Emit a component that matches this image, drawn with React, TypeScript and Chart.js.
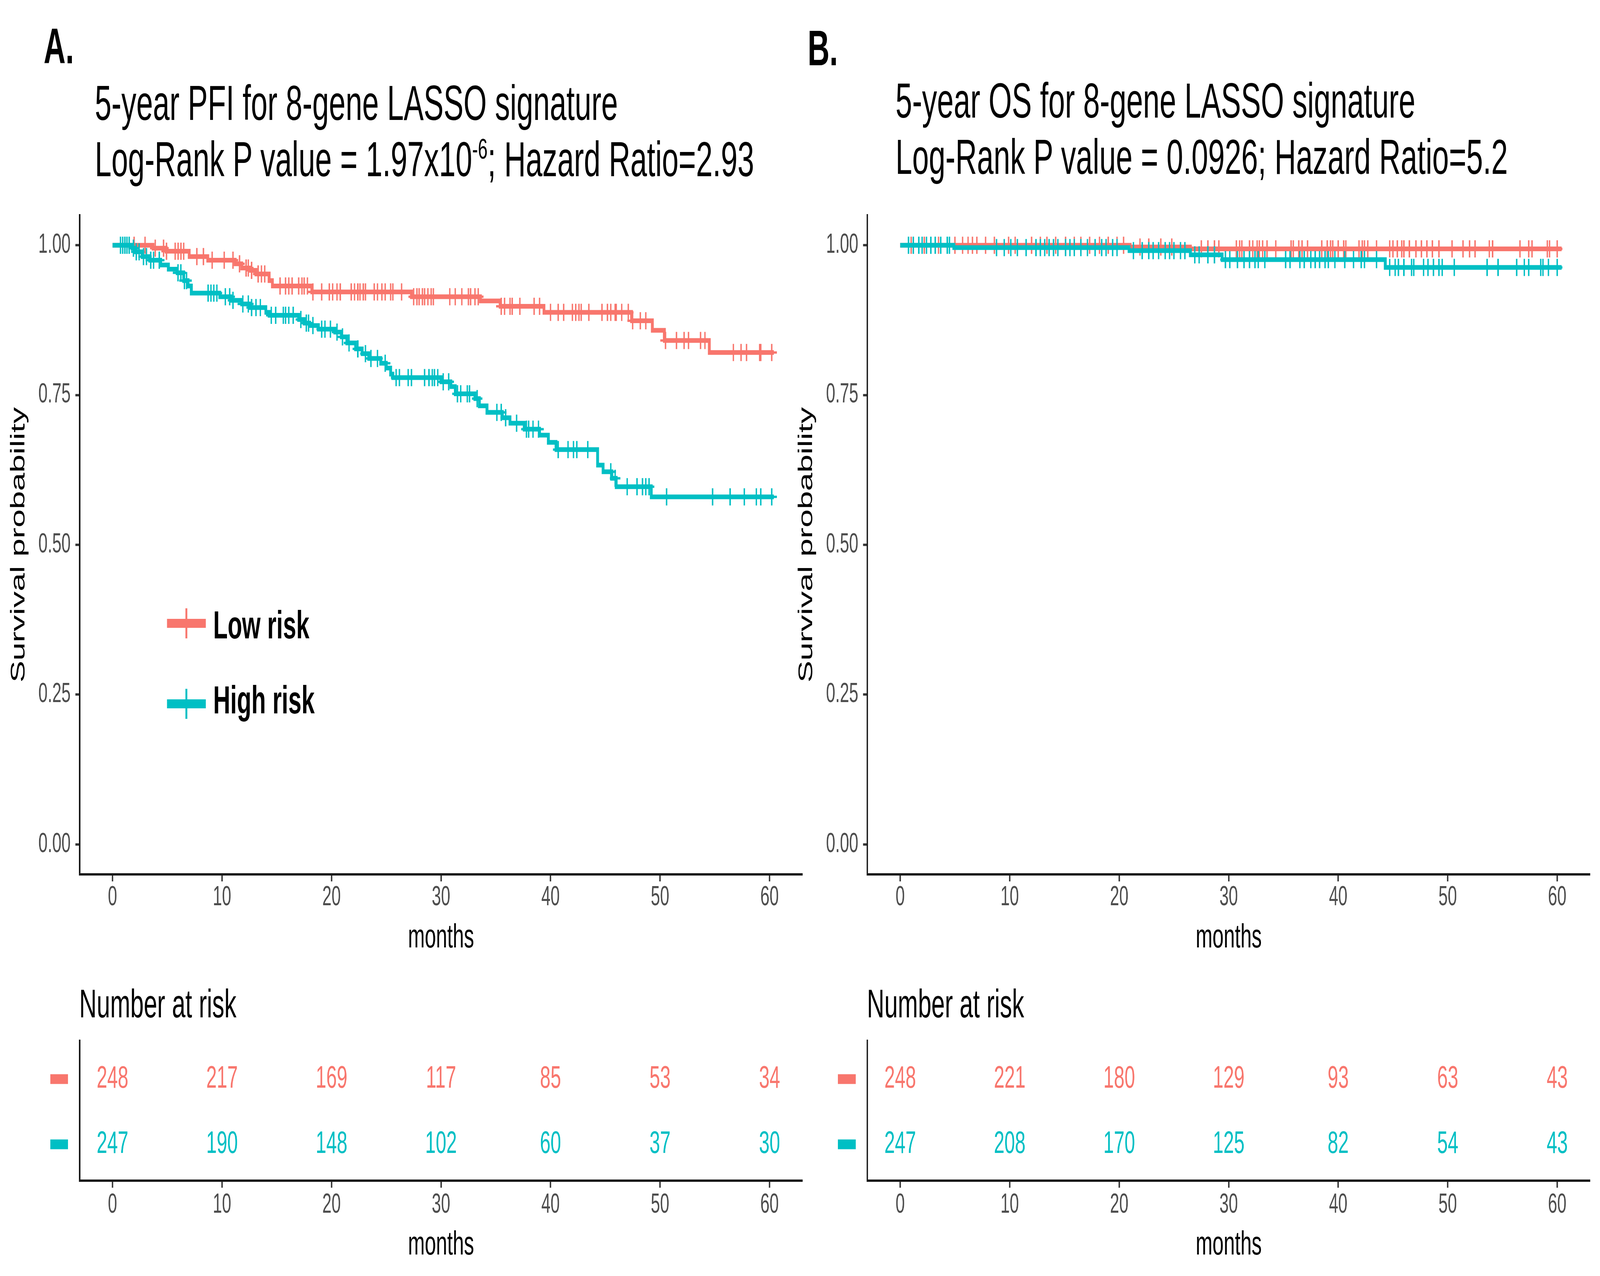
import React, { useEffect, useRef } from 'react';
import { Chart, registerables } from 'chart.js';

Chart.register(...registerables);

const RED = '#F8766D';
const TEAL = '#00BFC4';
const FONT = '"Liberation Sans", Arial, Helvetica, sans-serif';
Chart.defaults.font.family = FONT;

// design frame (reference size)
const FRAME_W = 6748;
const FRAME_H = 3266;

// ---------- axes ----------
const MONTH_TICKS = [0, 10, 20, 30, 40, 50, 60];
const SURV_TICKS = [0, 0.25, 0.5, 0.75, 1];

// ---------- Panel A: 5-year PFI ----------
const A_LOW_EVENT_T = [3.7, 4.9, 7.0, 8.7, 11.2, 11.8, 12.6, 13.1, 14.3, 14.6, 18.2, 27.3, 33.6, 35.4, 39.4, 47.4, 49.3, 50.4, 54.5];
const A_LOW_EVENT_S = [0.995, 0.99, 0.981, 0.975, 0.969, 0.962, 0.958, 0.952, 0.941, 0.932, 0.922, 0.914, 0.907, 0.898, 0.888, 0.874, 0.858, 0.841, 0.821];
const A_LOW_CENSOR = [1.97, 2.97, 3.9, 4.66, 4.93, 5.72, 5.99, 6.25, 6.5, 7.7, 8.3, 9.1, 10.2, 11.0, 11.6, 12.2, 12.4, 12.7, 13.3, 13.6, 13.9, 15.3, 15.8, 16.1, 16.4, 17.0, 17.3, 17.5, 17.8, 18.3, 19.1, 19.8, 20.1, 20.5, 20.8, 21.8, 22.1, 22.4, 22.6, 22.9, 23.1, 23.9, 24.2, 24.6, 24.9, 25.4, 25.6, 26.4, 27.5, 27.8, 28.0, 28.3, 28.5, 28.8, 29.1, 29.3, 30.8, 31.3, 31.9, 32.5, 32.7, 33.1, 33.4, 35.5, 35.8, 36.3, 36.5, 37.2, 38.5, 39.0, 40.0, 40.7, 41.2, 42.0, 42.3, 42.6, 42.8, 43.5, 44.7, 45.2, 45.5, 45.9, 46.0, 46.5, 47.1, 47.5, 48.2, 48.7, 50.5, 51.5, 52.2, 52.6, 53.7, 54.1, 56.7, 57.4, 57.9, 59.1, 59.2, 60.2];
const A_HIGH_EVENT_T = [1.8, 2.0, 2.7, 3.4, 4.4, 5.1, 5.9, 6.5, 6.9, 7.2, 9.8, 10.8, 11.8, 12.5, 14.0, 14.3, 17.0, 17.5, 18.0, 18.8, 20.3, 20.9, 21.4, 22.2, 22.8, 23.4, 24.5, 25.0, 25.4, 25.6, 30.0, 30.9, 31.3, 33.1, 33.5, 34.2, 35.6, 36.3, 37.6, 39.0, 39.8, 40.5, 44.3, 44.8, 45.6, 46.0, 49.2];
const A_HIGH_EVENT_S = [0.995, 0.989, 0.981, 0.975, 0.967, 0.96, 0.954, 0.941, 0.932, 0.92, 0.914, 0.908, 0.902, 0.896, 0.888, 0.883, 0.876, 0.87, 0.866, 0.86, 0.855, 0.847, 0.837, 0.827, 0.819, 0.811, 0.803, 0.795, 0.785, 0.779, 0.772, 0.764, 0.752, 0.744, 0.732, 0.721, 0.712, 0.703, 0.693, 0.683, 0.671, 0.659, 0.633, 0.622, 0.611, 0.597, 0.58];
const A_HIGH_CENSOR = [0.73, 0.93, 1.13, 1.32, 1.52, 1.91, 2.17, 2.43, 2.83, 3.1, 3.49, 3.75, 4.27, 5.98, 6.24, 6.57, 6.76, 8.73, 8.99, 9.25, 9.53, 10.3, 10.7, 11.0, 11.9, 12.4, 12.7, 13.1, 13.5, 14.5, 14.9, 15.6, 15.8, 16.1, 16.5, 17.2, 17.7, 17.9, 18.3, 19.1, 19.4, 19.9, 20.5, 21.0, 21.6, 22.4, 23.1, 23.6, 24.2, 24.9, 25.9, 26.2, 27.0, 27.3, 28.5, 28.9, 29.2, 29.4, 29.7, 30.2, 30.7, 31.5, 31.8, 32.4, 32.6, 33.3, 35.1, 35.5, 35.9, 36.9, 37.8, 38.0, 38.4, 38.9, 40.7, 41.6, 42.1, 42.4, 43.4, 45.5, 45.9, 47.0, 47.9, 48.4, 48.7, 49.0, 50.6, 54.8, 56.4, 57.7, 58.8, 59.2, 60.2];
const A_RISK_LOW = [248, 217, 169, 117, 85, 53, 34];
const A_RISK_HIGH = [247, 190, 148, 102, 60, 37, 30];

// ---------- Panel B: 5-year OS ----------
const B_LOW_EVENT_T = [21.0, 26.5];
const B_LOW_EVENT_S = [0.997, 0.994];
const B_LOW_CENSOR = [1.0, 2.2, 3.5, 5.0, 5.7, 6.2, 6.6, 7.0, 7.8, 8.6, 9.9, 10.5, 12.0, 12.8, 13.4, 14.2, 15.1, 15.9, 16.5, 17.3, 18.2, 19.0, 19.8, 20.4, 21.9, 22.7, 23.8, 24.8, 27.5, 28.1, 28.7, 29.1, 30.7, 31.0, 31.2, 31.9, 32.2, 32.6, 32.8, 33.1, 33.5, 34.3, 35.7, 35.9, 36.4, 36.7, 37.2, 38.5, 39.0, 39.3, 39.5, 40.0, 40.5, 40.7, 41.9, 42.2, 42.4, 42.7, 43.5, 44.7, 45.0, 45.4, 45.8, 46.0, 46.5, 47.1, 47.6, 48.1, 48.6, 49.2, 50.4, 51.4, 52.0, 52.5, 53.8, 54.1, 56.6, 57.4, 57.7, 59.1, 59.3, 60.0];
const B_HIGH_EVENT_T = [4.9, 20.9, 26.5, 29.4, 44.3];
const B_HIGH_EVENT_S = [0.996, 0.991, 0.984, 0.976, 0.963];
const B_HIGH_CENSOR = [0.76, 1.2, 1.7, 2.0, 2.4, 2.8, 3.2, 3.7, 4.3, 4.5, 8.8, 9.5, 10.1, 10.7, 11.5, 12.4, 12.8, 13.2, 13.6, 14.0, 14.4, 15.1, 15.5, 15.9, 16.5, 17.1, 17.8, 18.4, 18.8, 19.4, 19.8, 21.3, 22.1, 22.7, 23.1, 23.6, 24.2, 24.6, 25.0, 25.6, 26.0, 26.9, 27.3, 28.1, 28.7, 29.7, 30.1, 30.8, 31.4, 31.9, 32.4, 32.7, 33.3, 35.2, 35.6, 36.5, 36.9, 37.5, 37.9, 38.3, 38.8, 39.1, 39.7, 40.6, 41.4, 42.1, 42.4, 43.5, 44.7, 45.2, 45.5, 46.0, 46.7, 46.9, 47.8, 48.2, 48.7, 49.2, 49.5, 50.6, 53.6, 54.6, 56.3, 57.0, 57.4, 58.5, 58.7, 59.2, 60.0];
const B_RISK_LOW = [248, 221, 180, 129, 93, 63, 43];
const B_RISK_HIGH = [247, 208, 170, 125, 82, 54, 43];

const FOLLOW_UP_END = 60.4;
const ROW_LOW = 2;
const ROW_HIGH = 1;

// ---------- helpers ----------
type Group = { t: number[]; s: number[]; censor: number[] };

function survAt(t: number, g: Group) {
  let v = 1;
  for (let i = 0; i < g.t.length; i++) if (g.t[i] <= t) v = g.s[i];
  return v;
}
function stepData(g: Group) {
  const pts = [{ x: 0, y: 1 }];
  g.t.forEach((t, i) => pts.push({ x: t, y: g.s[i] }));
  pts.push({ x: FOLLOW_UP_END, y: g.s.length ? g.s[g.s.length - 1] : 1 });
  return pts;
}
function censorData(g: Group) {
  return g.censor.map((t) => ({ x: t, y: survAt(t, g) }));
}

const tickGrid = {
  display: true,
  drawOnChartArea: false,
  drawTicks: true,
  tickLength: 18,
  tickWidth: 6,
  tickColor: '#333333',
};
const axisBorder = { display: true, color: '#1a1a1a', width: 6 };

function kmConfig(low: Group, high: Group): any {
  const marks = (g: Group, c: string) => ({
    data: censorData(g),
    showLine: false,
    pointStyle: 'cross',
    pointRadius: 22,
    pointHoverRadius: 22,
    pointBorderWidth: 6,
    borderColor: c,
    backgroundColor: c,
  });
  const line = (g: Group, c: string) => ({
    data: stepData(g),
    stepped: true,
    borderColor: c,
    backgroundColor: c,
    borderWidth: 12,
    borderCapStyle: 'butt',
    borderJoinStyle: 'miter',
    pointRadius: 0,
    pointHoverRadius: 0,
    fill: false,
  });
  return {
    type: 'line',
    data: { datasets: [marks(high, TEAL), line(high, TEAL), marks(low, RED), line(low, RED)] },
    options: {
      animation: false,
      responsive: false,
      maintainAspectRatio: false,
      devicePixelRatio: 1,
      events: [],
      layout: { padding: { top: 151, right: 36, bottom: 0, left: 0 } },
      plugins: { legend: { display: false }, tooltip: { enabled: false }, title: { display: false } },
      scales: {
        x: {
          type: 'linear', min: -3, max: 63,
          afterBuildTicks: (s: any) => { s.ticks = MONTH_TICKS.map((v) => ({ value: v })); },
          afterFit: (s: any) => { s.height = 232; },
          grid: tickGrid, border: axisBorder,
          ticks: { padding: 0, color: '#4d4d4d', font: { size: 70 }, maxRotation: 0, autoSkip: false },
          title: { display: true, text: 'months', color: '#000', font: { size: 85 }, padding: { top: 0, bottom: 17 } },
        },
        y: {
          type: 'linear', min: -0.05, max: 1.05,
          afterBuildTicks: (s: any) => { s.ticks = SURV_TICKS.map((v) => ({ value: v })); },
          afterFit: (s: any) => { s.width = 336; },
          grid: tickGrid, border: axisBorder,
          ticks: { padding: 20, color: '#4d4d4d', font: { size: 70 }, callback: (v: any) => Number(v).toFixed(2) },
          title: { display: true, text: 'Survival probability', color: '#000', font: { size: 84 }, padding: { top: 29, bottom: 0 } },
        },
      },
    },
  };
}

function riskConfig(lowCounts: number[], highCounts: number[]): any {
  const rows = [
    { counts: highCounts, row: ROW_HIGH, color: TEAL },
    { counts: lowCounts, row: ROW_LOW, color: RED },
  ];
  const riskText = {
    id: 'riskText',
    afterDatasetsDraw(chart: any) {
      const ctx = chart.ctx;
      rows.forEach((r, i) => {
        const meta = chart.getDatasetMeta(i);
        ctx.save();
        ctx.fillStyle = r.color;
        ctx.font = `80px ${FONT}`;
        ctx.textAlign = 'center';
        ctx.textBaseline = 'middle';
        meta.data.forEach((el: any, j: number) => ctx.fillText(String(r.counts[j]), el.x, el.y));
        const y = chart.scales.y.getPixelForValue(r.row);
        ctx.fillRect(chart.chartArea.left - 124, y - 12.5, 75, 25);
        ctx.restore();
      });
    },
  };
  return {
    type: 'line',
    data: {
      datasets: rows.map((r) => ({
        data: MONTH_TICKS.map((x) => ({ x, y: r.row })),
        showLine: false, pointRadius: 0, pointHoverRadius: 0, borderColor: r.color,
      })),
    },
    plugins: [riskText],
    options: {
      animation: false, responsive: false, maintainAspectRatio: false, devicePixelRatio: 1, events: [],
      layout: { padding: { top: 64, right: 36, bottom: 0, left: 0 } },
      plugins: { legend: { display: false }, tooltip: { enabled: false }, title: { display: false } },
      scales: {
        x: {
          type: 'linear', min: -3, max: 63,
          afterBuildTicks: (s: any) => { s.ticks = MONTH_TICKS.map((v) => ({ value: v })); },
          afterFit: (s: any) => { s.height = 244; },
          grid: tickGrid, border: axisBorder,
          ticks: { padding: 3, color: '#4d4d4d', font: { size: 70 }, maxRotation: 0, autoSkip: false },
          title: { display: true, text: 'months', color: '#000', font: { size: 85 }, padding: { top: 0, bottom: 27 } },
        },
        y: {
          type: 'linear', min: 0.443, max: 2.587,
          afterFit: (s: any) => { s.width = 336; },
          grid: { display: false }, border: axisBorder, ticks: { display: false },
        },
      },
    },
  };
}

function ChartCanvas(props: { left: number; top: number; width: number; height: number; make: () => any }) {
  const ref = useRef<HTMLCanvasElement | null>(null);
  useEffect(() => {
    const chart = new Chart(ref.current as HTMLCanvasElement, props.make());
    return () => chart.destroy();
  }, []);
  const { left, top, width, height } = props;
  return <canvas ref={ref} width={width} height={height} style={{ position: 'absolute', left, top, width, height, display: 'block' }} />;
}

function Txt(props: { left: number; top: number; size: number; bold?: boolean; children: any }) {
  return (
    <div style={{ position: 'absolute', left: props.left, top: props.top, fontSize: props.size, lineHeight: 1, fontWeight: props.bold ? 700 : 400, whiteSpace: 'nowrap', color: '#000', fontFamily: FONT }}>
      {props.children}
    </div>
  );
}

function LegendKey(props: { y: number; color: string; label: string; textTop: number }) {
  return (
    <>
      <div style={{ position: 'absolute', left: 704, top: props.y - 11.5, width: 164, height: 23, background: props.color }} />
      <div style={{ position: 'absolute', left: 782, top: props.y - 38, width: 8, height: 77, background: props.color }} />
      <Txt left={899} top={props.textTop} size={100} bold>{props.label}</Txt>
    </>
  );
}

const DX = 3322;

export default function App() {
  const vw = typeof window !== 'undefined' ? window.innerWidth : FRAME_W;
  const vh = typeof window !== 'undefined' ? window.innerHeight : FRAME_H;
  const sx = Math.min(1, vw / FRAME_W);
  const sy = Math.min(1, vh / FRAME_H);
  const aLow: Group = { t: A_LOW_EVENT_T, s: A_LOW_EVENT_S, censor: A_LOW_CENSOR };
  const aHigh: Group = { t: A_HIGH_EVENT_T, s: A_HIGH_EVENT_S, censor: A_HIGH_CENSOR };
  const bLow: Group = { t: B_LOW_EVENT_T, s: B_LOW_EVENT_S, censor: B_LOW_CENSOR };
  const bHigh: Group = { t: B_HIGH_EVENT_T, s: B_HIGH_EVENT_S, censor: B_HIGH_CENSOR };
  const sup = { fontSize: '0.58em', position: 'relative' as const, top: '-0.62em' };
  return (
    <div
      style={{
        position: 'fixed',
        left: 0,
        top: 0,
        width: FRAME_W,
        height: FRAME_H,
        background: '#ffffff',
        overflow: 'hidden',
        fontFamily: FONT,
        transform: `scale(${sx}, ${sy})`,
        transformOrigin: '0 0',
      }}
    >
      {/* Panel A */}
      <Txt left={184} top={54} size={128} bold>A.</Txt>
      <Txt left={400} top={201} size={126}>5-year PFI for 8-gene LASSO signature</Txt>
      <Txt left={400} top={345} size={126}>Log-Rank P value = 1.97x10<span style={sup}>-6</span>; Hazard Ratio=2.93</Txt>
      <ChartCanvas left={0} top={400} width={3420} height={2070} make={() => kmConfig(aLow, aHigh)} />
      <LegendKey y={1595} color={RED} label="Low risk" textTop={1549} />
      <LegendKey y={1801} color={TEAL} label="High risk" textTop={1741} />
      <Txt left={334} top={2518} size={102}>Number at risk</Txt>
      <ChartCanvas left={0} top={2600} width={3420} height={666} make={() => riskConfig(A_RISK_LOW, A_RISK_HIGH)} />

      {/* Panel B */}
      <Txt left={3406} top={59} size={128} bold>B.</Txt>
      <Txt left={3777} top={195} size={126}>5-year OS for 8-gene LASSO signature</Txt>
      <Txt left={3777} top={339} size={126}>Log-Rank P value = 0.0926; Hazard Ratio=5.2</Txt>
      <ChartCanvas left={DX} top={400} width={3420} height={2070} make={() => kmConfig(bLow, bHigh)} />
      <Txt left={334 + DX} top={2518} size={102}>Number at risk</Txt>
      <ChartCanvas left={DX} top={2600} width={3420} height={666} make={() => riskConfig(B_RISK_LOW, B_RISK_HIGH)} />
    </div>
  );
}
